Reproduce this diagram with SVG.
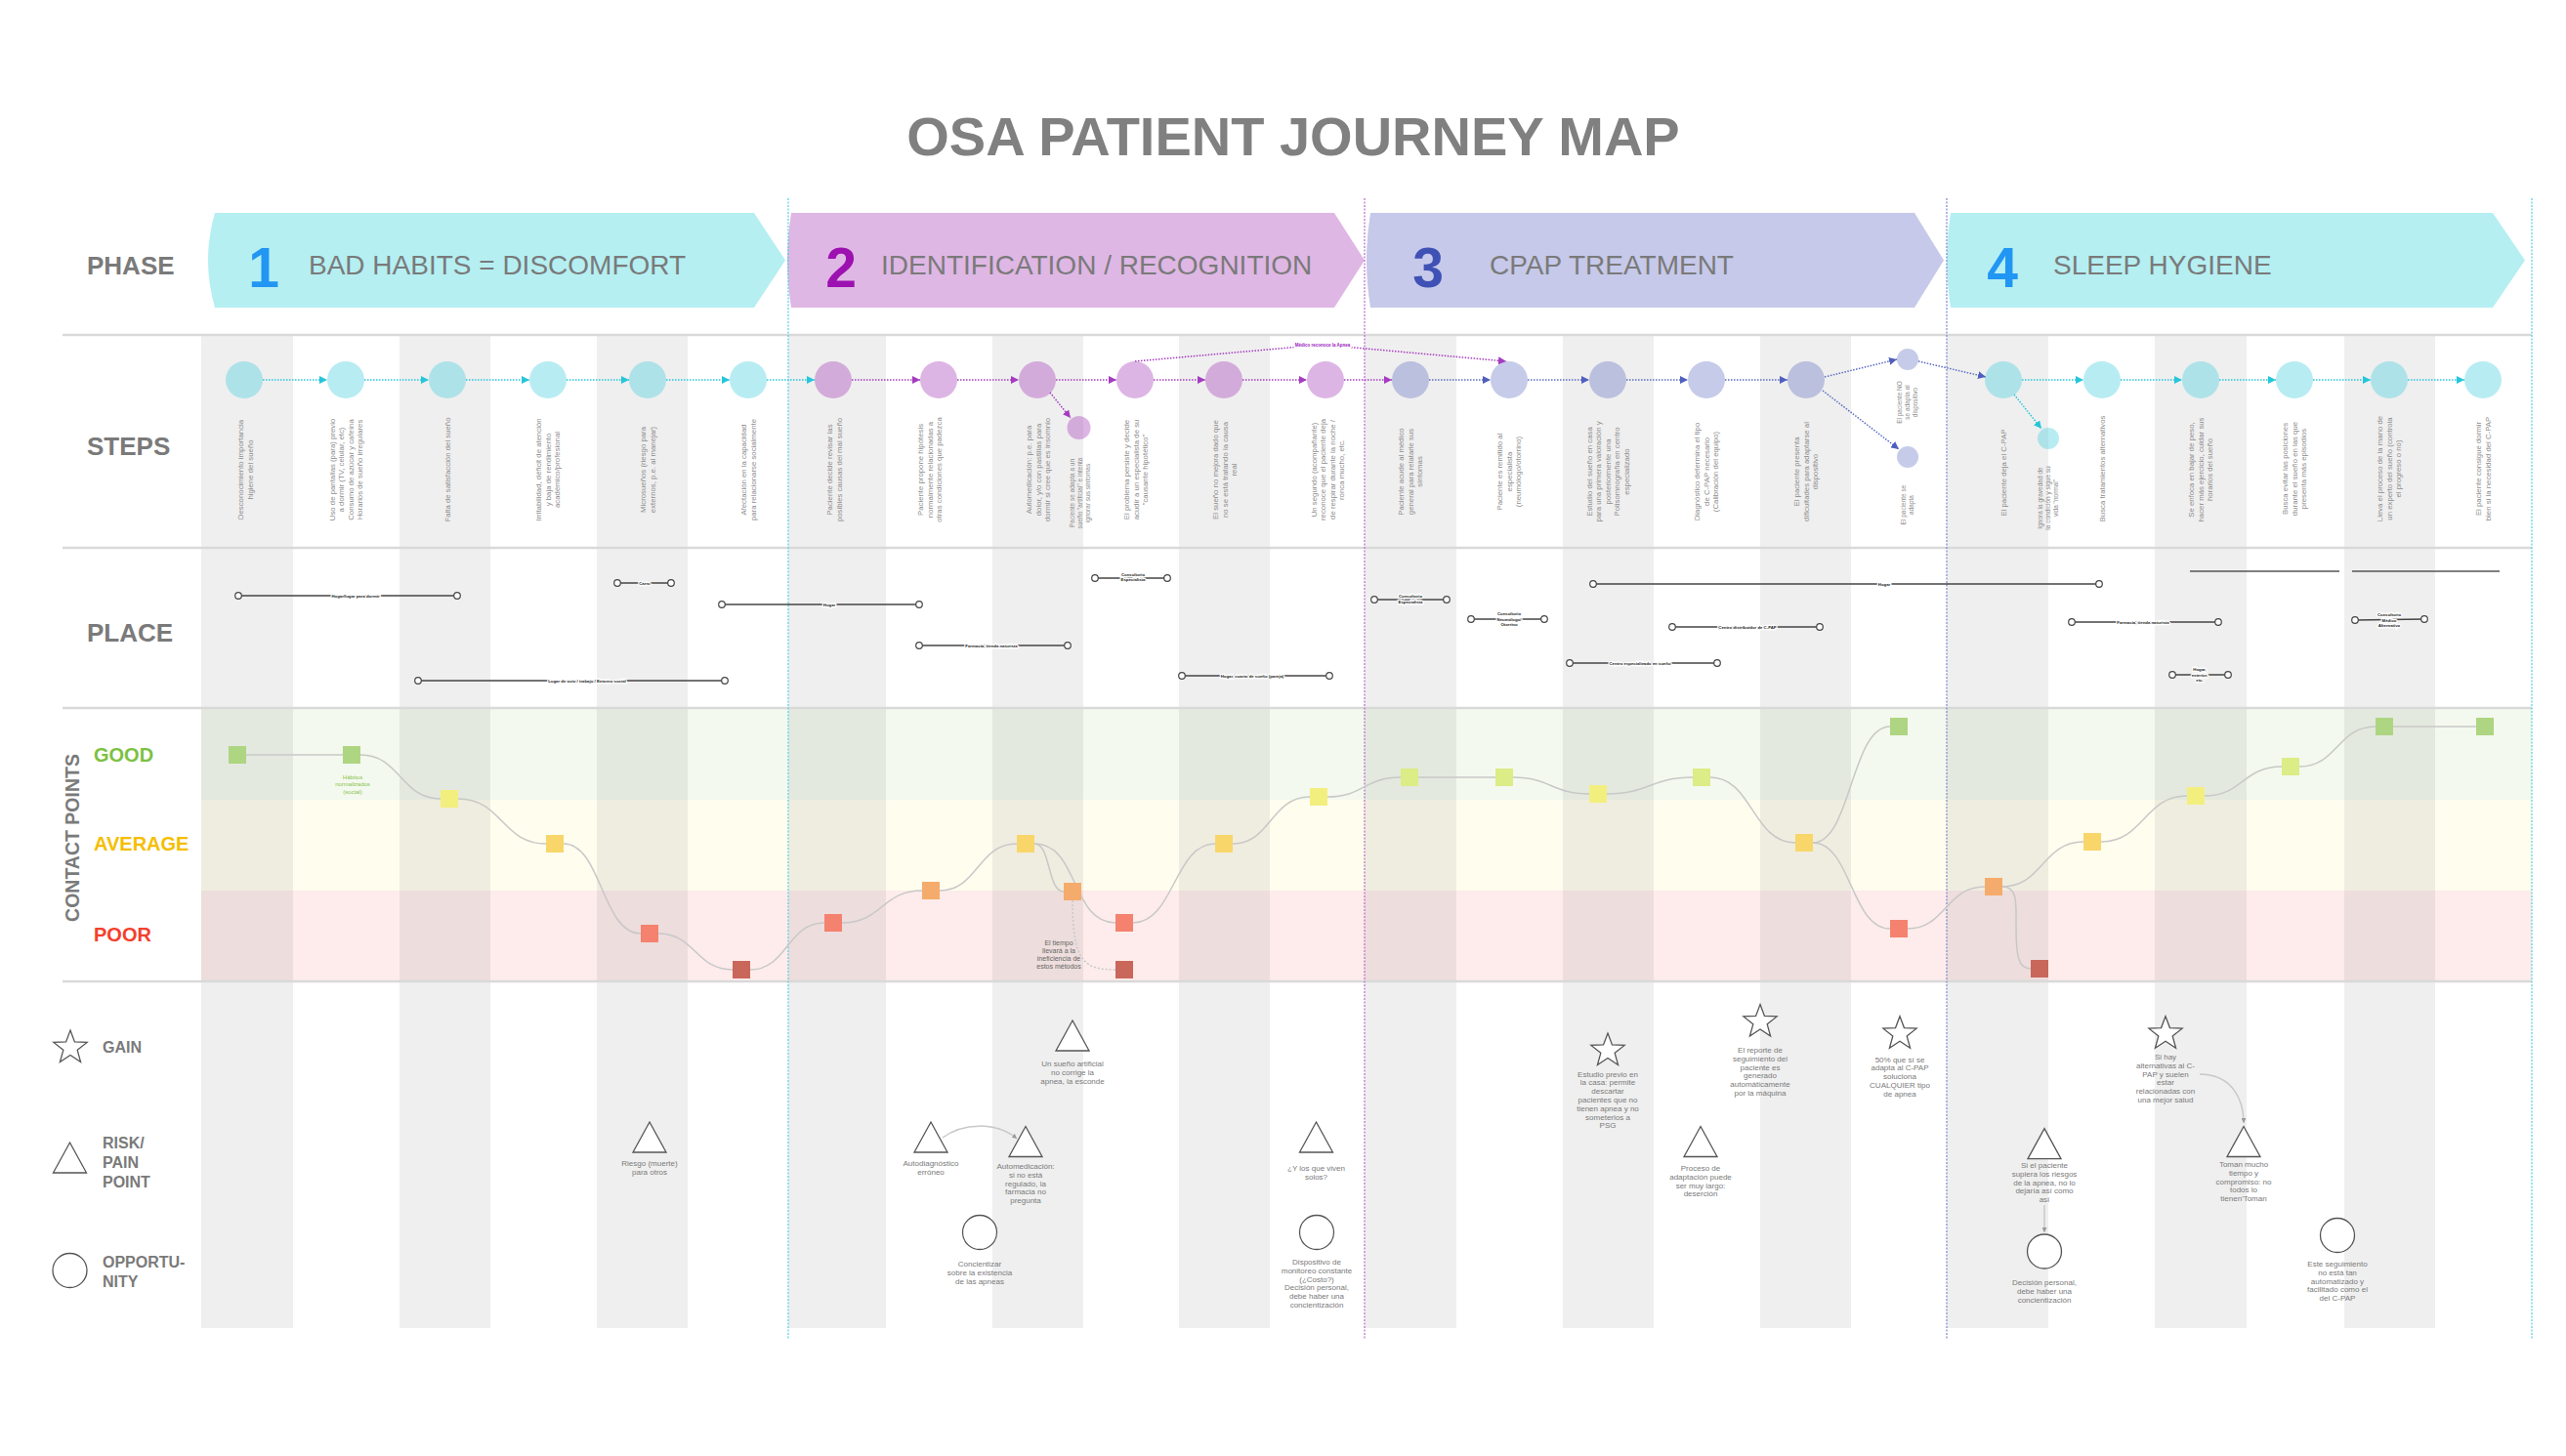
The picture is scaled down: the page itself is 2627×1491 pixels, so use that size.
<svg xmlns="http://www.w3.org/2000/svg" width="2627" height="1491" viewBox="0 0 2627 1491">
<defs>
<style>
text{font-family:"Liberation Sans",Arial,sans-serif}
.title{font-size:56px;font-weight:bold;fill:#808080}
.row{font-size:26px;font-weight:bold;fill:#7a7a7a}
.pnum{font-size:57px;font-weight:bold;text-anchor:middle}
.ptxt{font-size:28px;fill:#7a7a7a}
.st{font-size:7.8px;fill:#8c8c8c;text-anchor:middle}
.ss{font-size:6.5px;fill:#8c8c8c;text-anchor:middle}
.pl{font-size:4.3px;font-weight:bold;fill:#222;text-anchor:middle;stroke:#fff;stroke-width:2.5px;paint-order:stroke}
.pline{stroke:#444;stroke-width:1.3;fill:none}
.pend{fill:#fff;stroke:#444;stroke-width:1.2}
.note{font-size:8px;fill:#7a7a7a;text-anchor:middle}
.ico{fill:#fff;stroke:#555;stroke-width:1.3}
.lg{font-size:16px;font-weight:bold;fill:#7a7a7a}
.cp{stroke:#c8c8c8;stroke-width:1.5;fill:none}
.sep{stroke:#d9d9d9;stroke-width:2.5}
.stripe{fill:#000;fill-opacity:0.063}
.c1{fill:#4dd0e1;fill-opacity:0.4}
.c2{fill:#ab47bc;fill-opacity:0.4}
.c3{fill:#5c6bc0;fill-opacity:0.35}
.a1{stroke:#26c6da;stroke-width:1.5;stroke-dasharray:1.5 1.5;fill:none;marker-end:url(#ar1)}
.a2{stroke:#a53bc0;stroke-width:1.5;stroke-dasharray:1.5 1.5;fill:none;marker-end:url(#ar2)}
.a3{stroke:#5c6bc0;stroke-width:1.5;stroke-dasharray:1.5 1.5;fill:none;marker-end:url(#ar3)}
.vline{stroke-width:1.2;stroke-dasharray:2 1.5}
</style>
<marker id="ar1" viewBox="0 0 8 8" refX="8" refY="4" markerWidth="8" markerHeight="8" markerUnits="userSpaceOnUse" orient="auto"><path d="M0,0 L8,4 L0,8 Z" fill="#26c6da"/></marker>
<marker id="ar2" viewBox="0 0 8 8" refX="8" refY="4" markerWidth="8" markerHeight="8" markerUnits="userSpaceOnUse" orient="auto"><path d="M0,0 L8,4 L0,8 Z" fill="#a53bc0"/></marker>
<marker id="ar3" viewBox="0 0 8 8" refX="8" refY="4" markerWidth="8" markerHeight="8" markerUnits="userSpaceOnUse" orient="auto"><path d="M0,0 L8,4 L0,8 Z" fill="#4f5fbf"/></marker>
<marker id="arg" viewBox="0 0 6 6" refX="6" refY="3" markerWidth="5" markerHeight="5" markerUnits="userSpaceOnUse" orient="auto"><path d="M0,0 L6,3 L0,6 Z" fill="#999"/></marker>
<path id="star" d="M0,-18 L4.44,-6.12 L17.12,-5.56 L7.19,2.34 L10.58,14.56 L0,7.56 L-10.58,14.56 L-7.19,2.34 L-17.12,-5.56 L-4.44,-6.12 Z"/>
<path id="tri" d="M0,-16 L17,15 L-17,15 Z"/>
<circle id="opp" r="17.5"/>
</defs>
<rect x="0" y="0" width="2627" height="1491" fill="#fff"/>

<text class="title" x="1324" y="159" text-anchor="middle">OSA PATIENT JOURNEY MAP</text>

<!-- row labels -->
<text class="row" x="89" y="281">PHASE</text>
<text class="row" x="89" y="466">STEPS</text>
<text class="row" x="89" y="657">PLACE</text>
<text transform="translate(81,858) rotate(-90)" text-anchor="middle" style="font-size:19.5px;font-weight:bold;fill:#7a7a7a">CONTACT POINTS</text>
<text x="96" y="780" style="font-size:20px;font-weight:bold;fill:#7cc142">GOOD</text>
<text x="96" y="871" style="font-size:20px;font-weight:bold;fill:#f5be00">AVERAGE</text>
<text x="96" y="964" style="font-size:20px;font-weight:bold;fill:#f4402c">POOR</text>

<!-- phases -->
<g id="phase-1">
<path d="M220,218 L772,218 L804,266.5 L772,315 L220,315 Q206,266.5 220,218 Z" fill="#b5eff2"/>
<text class="pnum" x="270" y="294" fill="#2196f3">1</text>
<text class="ptxt" x="316" y="281">BAD HABITS = DISCOMFORT</text>
</g>
<g id="phase-2">
<path d="M810,218 L1366,218 L1397,266.5 L1366,315 L810,315 Q802,266.5 810,218 Z" fill="#dfb7e4"/>
<text class="pnum" x="861" y="294" fill="#9c11b0">2</text>
<text class="ptxt" x="902" y="281">IDENTIFICATION / RECOGNITION</text>
</g>
<g id="phase-3">
<path d="M1403,218 L1960,218 L1990,266.5 L1960,315 L1403,315 Q1395,266.5 1403,218 Z" fill="#c6c9e9"/>
<text class="pnum" x="1462" y="294" fill="#3f51b5">3</text>
<text class="ptxt" x="1525" y="281">CPAP TREATMENT</text>
</g>
<g id="phase-4">
<path d="M1997,218 L2552,218 L2585,266.5 L2552,315 L1997,315 Q1989,266.5 1997,218 Z" fill="#b5eff2"/>
<text class="pnum" x="2050" y="294" fill="#2196f3">4</text>
<text class="ptxt" x="2102" y="281">SLEEP HYGIENE</text>
</g>

<!-- bands -->
<rect x="206" y="726" width="2386" height="93" fill="#f3f9ee"/>
<rect x="206" y="819" width="2386" height="93" fill="#fffdee"/>
<rect x="206" y="912" width="2386" height="93" fill="#fdeceb"/>

<!-- stripes -->
<g id="stripes">
<rect class="stripe" x="206" y="344" width="94" height="1016"/>
<rect class="stripe" x="409" y="344" width="93" height="1016"/>
<rect class="stripe" x="611" y="344" width="93" height="1016"/>
<rect class="stripe" x="807" y="344" width="100" height="1016"/>
<rect class="stripe" x="1016" y="344" width="93" height="1016"/>
<rect class="stripe" x="1207" y="344" width="93" height="1016"/>
<rect class="stripe" x="1397" y="344" width="94" height="1016"/>
<rect class="stripe" x="1600" y="344" width="93" height="1016"/>
<rect class="stripe" x="1802" y="344" width="93" height="1016"/>
<rect class="stripe" x="1993" y="344" width="104" height="1016"/>
<rect class="stripe" x="2206" y="344" width="94" height="1016"/>
<rect class="stripe" x="2400" y="344" width="93" height="1016"/>
</g>

<line class="sep" x1="64" y1="343" x2="2592" y2="343"/>
<line class="sep" x1="64" y1="561" x2="2592" y2="561"/>
<line class="sep" x1="64" y1="725" x2="2592" y2="725"/>
<line class="sep" x1="64" y1="1005" x2="2592" y2="1005"/>

<line class="vline" x1="807" y1="203" x2="807" y2="1372" stroke="#4dd0e1"/>
<line class="vline" x1="1397" y1="203" x2="1397" y2="1372" stroke="#ba68c8"/>
<line class="vline" x1="1993" y1="203" x2="1993" y2="1372" stroke="#7986cb"/>
<line class="vline" x1="2592" y1="203" x2="2592" y2="1372" stroke="#4dd0e1"/>

<!-- connectors -->
<g id="connectors">
<path class="a1" d="M269,389 L335,389"/>
<path class="a1" d="M373,389 L439,389"/>
<path class="a1" d="M477,389 L542,389"/>
<path class="a1" d="M580,389 L644,389"/>
<path class="a1" d="M682,389 L747,389"/>
<path class="a1" d="M785,389 L834,389"/>
<path class="a2" d="M872,389 L942,389"/>
<path class="a2" d="M980,389 L1043,389"/>
<path class="a2" d="M1081,389 L1143,389"/>
<path class="a2" d="M1181,389 L1234,389"/>
<path class="a2" d="M1272,389 L1338,389"/>
<path class="a2" d="M1376,389 L1425,389"/>
<path class="a2" d="M1075,402 L1096,428"/>
<path class="a2" d="M1162,370 L1354,353 L1542,370"/>
<path class="a3" d="M1463,389 L1526,389"/>
<path class="a3" d="M1564,389 L1627,389"/>
<path class="a3" d="M1665,389 L1728,389"/>
<path class="a3" d="M1766,389 L1830,389"/>
<path class="a3" d="M1868,386 L1942,368"/>
<path class="a3" d="M1866,400 L1944,460"/>
<path class="a3" d="M1964,370 L2033,386"/>
<path class="a1" d="M2070,389 L2133,389"/>
<path class="a1" d="M2171,389 L2234,389"/>
<path class="a1" d="M2272,389 L2330,389"/>
<path class="a1" d="M2368,389 L2427,389"/>
<path class="a1" d="M2465,389 L2523,389"/>
<path class="a1" d="M2062,404 L2090,439"/>

<path class="cp" d="M252,773 L351,773"/>
<path class="cp" d="M369,773 C410,773 410,818 451,818"/>
<path class="cp" d="M469,818 C514,818 514,864 559,864"/>
<path class="cp" d="M577,864 C616,864 616,956 656,956"/>
<path class="cp" d="M674,956 C712,956 712,993 750,993"/>
<path class="cp" d="M768,993 C806,993 806,945 844,945"/>
<path class="cp" d="M862,945 C903,945 903,912 944,912"/>
<path class="cp" d="M962,912 C1001,912 1001,864 1041,864"/>
<path class="cp" d="M1059,864 C1076,864 1072,913 1089,913"/>
<path class="cp" d="M1059,864 C1105,864 1096,945 1142,945"/>
<path class="cp" d="M1098,922 C1098,985 1110,993 1142,993" stroke-dasharray="2 2"/>
<path class="cp" d="M1160,945 C1202,945 1202,864 1244,864"/>
<path class="cp" d="M1262,864 C1301,864 1301,816 1341,816"/>
<path class="cp" d="M1359,816 C1396,816 1396,796 1434,796"/>
<path class="cp" d="M1452,796 L1531,796"/>
<path class="cp" d="M1549,796 C1588,796 1588,813 1627,813"/>
<path class="cp" d="M1645,813 C1689,813 1689,796 1733,796"/>
<path class="cp" d="M1751,796 C1794,796 1794,863 1838,863"/>
<path class="cp" d="M1856,863 C1895,863 1895,744 1935,744"/>
<path class="cp" d="M1856,863 C1895,863 1895,951 1935,951"/>
<path class="cp" d="M1953,951 C1992,951 1992,908 2032,908"/>
<path class="cp" d="M2050,908 C2066,908 2064,925 2064,950 C2064,978 2066,992 2079,992"/>
<path class="cp" d="M2050,908 C2091,908 2091,862 2133,862"/>
<path class="cp" d="M2151,862 C2195,862 2195,815 2239,815"/>
<path class="cp" d="M2257,815 C2296,815 2296,785 2336,785"/>
<path class="cp" d="M2354,785 C2393,785 2393,744 2432,744"/>
<path class="cp" d="M2450,744 L2535,744"/>

<path class="cp" d="M965,1165 C985,1150 1020,1148 1041,1166" stroke-width="1.2" marker-end="url(#arg)"/>
<path class="cp" d="M2252,1100 C2282,1100 2297,1122 2297,1150" stroke-width="1.2" marker-end="url(#arg)"/>
<path class="cp" d="M2093,1234 L2093,1262" stroke-width="1.2" marker-end="url(#arg)"/>
</g>
<text x="1354" y="355" text-anchor="middle" style="font-size:4.5px;font-weight:bold;fill:#a020c0;stroke:#fff;stroke-width:3px;paint-order:stroke">Médico reconoce la Apnea</text>

<!-- steps -->
<g id="step-1"><circle class="c1" cx="250" cy="389" r="19"/><text class="st" transform="translate(251,481) rotate(-90)"><tspan x="0" y="-1.95">Desconocimiento importancia</tspan><tspan x="0" y="7.55">higiene del sueño</tspan></text></g>
<g id="step-2"><circle class="c1" cx="354" cy="389" r="19"/><text class="st" transform="translate(354,481) rotate(-90)"><tspan x="0" y="-11.45">Uso de pantallas (para) previo</tspan><tspan x="0" y="-1.95">a dormir (TV, celular, etc)</tspan><tspan x="0" y="7.55">Consumo de azúcar y cafeína</tspan><tspan x="0" y="17.05">Horarios de sueño irregulares</tspan></text></g>
<g id="step-3"><circle class="c1" cx="458" cy="389" r="19"/><text class="st" transform="translate(458,481) rotate(-90)"><tspan x="0" y="2.8">Falta de satisfacción del sueño</tspan></text></g>
<g id="step-4"><circle class="c1" cx="561" cy="389" r="19"/><text class="st" transform="translate(561,481) rotate(-90)"><tspan x="0" y="-6.7">Irritabilidad, déficit de atención</tspan><tspan x="0" y="2.8">y baja de rendimiento</tspan><tspan x="0" y="12.3">académico/profesional</tspan></text></g>
<g id="step-5"><circle class="c1" cx="663" cy="389" r="19"/><text class="st" transform="translate(663,481) rotate(-90)"><tspan x="0" y="-1.95">Microsueños (riesgo para</tspan><tspan x="0" y="7.55">externos, p.e. al manejar)</tspan></text></g>
<g id="step-6"><circle class="c1" cx="766" cy="389" r="19"/><text class="st" transform="translate(766,481) rotate(-90)"><tspan x="0" y="-1.95">Afectación en la capacidad</tspan><tspan x="0" y="7.55">para relacionarse socialmente</tspan></text></g>
<g id="step-7"><circle class="c2" cx="853" cy="389" r="19"/><text class="st" transform="translate(854,481) rotate(-90)"><tspan x="0" y="-1.95">Paciente decide revisar las</tspan><tspan x="0" y="7.55">posibles causas del mal sueño</tspan></text></g>
<g id="step-8"><circle class="c2" cx="961" cy="389" r="19"/><text class="st" transform="translate(952,481) rotate(-90)"><tspan x="0" y="-6.7">Paciente propone hipótesis</tspan><tspan x="0" y="2.8">normalmente relacionadas a</tspan><tspan x="0" y="12.3">otras condiciones que padezca</tspan></text></g>
<g id="step-9"><circle class="c2" cx="1062" cy="389" r="19"/><text class="st" transform="translate(1063,481) rotate(-90)"><tspan x="0" y="-6.7">Automedicación: p.e. para</tspan><tspan x="0" y="2.8">dolor, y/o con pastillas para</tspan><tspan x="0" y="12.3">dormir si cree que es insomnio</tspan></text></g>
<g id="step-9b"><circle class="c2" cx="1104.5" cy="438" r="12"/><text class="ss" transform="translate(1106,505) rotate(-90)"><tspan x="0" y="-5.7">Paciente se adapta a un</tspan><tspan x="0" y="2.3">sueño "artificial" e intenta</tspan><tspan x="0" y="10.3">ignorar sus síntomas</tspan></text></g>
<g id="step-10"><circle class="c2" cx="1162" cy="389" r="19"/><text class="st" transform="translate(1163,481) rotate(-90)"><tspan x="0" y="-6.7">El problema persiste y decide</tspan><tspan x="0" y="2.8">acudir a un especialista de su</tspan><tspan x="0" y="12.3">"causante hipotético"</tspan></text></g>
<g id="step-11"><circle class="c2" cx="1253" cy="389" r="19"/><text class="st" transform="translate(1254,481) rotate(-90)"><tspan x="0" y="-6.7">El sueño no mejora dado que</tspan><tspan x="0" y="2.8">no se está tratando la causa</tspan><tspan x="0" y="12.3">real</tspan></text></g>
<g id="step-12"><circle class="c2" cx="1357" cy="389" r="19"/><text class="st" transform="translate(1359,481) rotate(-90)"><tspan x="0" y="-11.45">Un segundo (acompañante)</tspan><tspan x="0" y="-1.95">reconoce que el paciente deja</tspan><tspan x="0" y="7.55">de respirar durante la noche /</tspan><tspan x="0" y="17.05">ronca mucho, etc.</tspan></text></g>
<g id="step-13"><circle class="c3" cx="1444" cy="389" r="19"/><text class="st" transform="translate(1444,483) rotate(-90)"><tspan x="0" y="-6.7">Paciente acude al médico</tspan><tspan x="0" y="2.8">general para relatarle sus</tspan><tspan x="0" y="12.3">síntomas</tspan></text></g>
<g id="step-14"><circle class="c3" cx="1545" cy="389" r="19"/><text class="st" transform="translate(1545,483) rotate(-90)"><tspan x="0" y="-6.7">Paciente es remitido al</tspan><tspan x="0" y="2.8">especialista</tspan><tspan x="0" y="12.3">(neumólogo/otorrino)</tspan></text></g>
<g id="step-15"><circle class="c3" cx="1646" cy="389" r="19"/><text class="st" transform="translate(1646,483) rotate(-90)"><tspan x="0" y="-16.2">Estudio del sueño en casa</tspan><tspan x="0" y="-6.7">para una primera valoración y</tspan><tspan x="0" y="2.8">posteriormente una</tspan><tspan x="0" y="12.3">Polisomnografía en centro</tspan><tspan x="0" y="21.8">especializado</tspan></text></g>
<g id="step-16"><circle class="c3" cx="1747" cy="389" r="19"/><text class="st" transform="translate(1747,483) rotate(-90)"><tspan x="0" y="-6.7">Diagnóstico determina el tipo</tspan><tspan x="0" y="2.8">de C-PAP necesario</tspan><tspan x="0" y="12.3">(Calibración del equipo)</tspan></text></g>
<g id="step-17"><circle class="c3" cx="1849" cy="389" r="19"/><text class="st" transform="translate(1849,483) rotate(-90)"><tspan x="0" y="-6.7">El paciente presenta</tspan><tspan x="0" y="2.8">dificultades para adaptarse al</tspan><tspan x="0" y="12.3">dispositivo</tspan></text></g>
<g id="step-18a"><circle class="c3" cx="1953" cy="368" r="11"/><text class="ss" transform="translate(1953,412) rotate(-90)"><tspan x="0" y="-5.7">El paciente NO</tspan><tspan x="0" y="2.3">se adapta al</tspan><tspan x="0" y="10.3">dispositivo</tspan></text></g>
<g id="step-18b"><circle class="c3" cx="1953" cy="468" r="11"/><text class="ss" transform="translate(1953,517) rotate(-90)"><tspan x="0" y="-1.7">El paciente se</tspan><tspan x="0" y="6.3">adapta</tspan></text></g>
<g id="step-19"><circle class="c1" cx="2051" cy="389" r="19"/><text class="st" transform="translate(2051,484) rotate(-90)"><tspan x="0" y="2.8">El paciente deja el C-PAP</tspan></text></g>
<g id="step-19b"><circle class="c1" cx="2097" cy="449" r="11"/><text class="ss" transform="translate(2097,510) rotate(-90)"><tspan x="0" y="-5.7">Ignora la gravedad de</tspan><tspan x="0" y="2.3">la condición y sigue su</tspan><tspan x="0" y="10.3">vida "normal"</tspan></text></g>
<g id="step-20"><circle class="c1" cx="2152" cy="389" r="19"/><text class="st" transform="translate(2152,480) rotate(-90)"><tspan x="0" y="2.8">Busca tratamientos alternativos</tspan></text></g>
<g id="step-21"><circle class="c1" cx="2253" cy="389" r="19"/><text class="st" transform="translate(2253,481) rotate(-90)"><tspan x="0" y="-6.7">Se enfoca en bajar de peso,</tspan><tspan x="0" y="2.8">hacer más ejercicio, cuidar sus</tspan><tspan x="0" y="12.3">horarios del sueño</tspan></text></g>
<g id="step-22"><circle class="c1" cx="2349" cy="389" r="19"/><text class="st" transform="translate(2349,480) rotate(-90)"><tspan x="0" y="-6.7">Busca evitar las posiciones</tspan><tspan x="0" y="2.8">durante el sueño en las que</tspan><tspan x="0" y="12.3">presenta más episodios</tspan></text></g>
<g id="step-23"><circle class="c1" cx="2446" cy="389" r="19"/><text class="st" transform="translate(2446,480) rotate(-90)"><tspan x="0" y="-6.7">Lleva el proceso de la mano de</tspan><tspan x="0" y="2.8">un experto del sueño (controla</tspan><tspan x="0" y="12.3">el progreso o no)</tspan></text></g>
<g id="step-24"><circle class="c1" cx="2542" cy="389" r="19"/><text class="st" transform="translate(2542,480) rotate(-90)"><tspan x="0" y="-1.95">El paciente consigue dormir</tspan><tspan x="0" y="7.55">bien si la necesidad del C-PAP</tspan></text></g>

<!-- places -->
<g id="place-1"><line class="pline" x1="244" y1="610" x2="468" y2="610"/><circle class="pend" cx="244" cy="610" r="3.3"/><circle class="pend" cx="468" cy="610" r="3.3"/><text class="pl" x="364" y="611.5">Hogar/lugar para dormir</text></g>
<g id="place-2"><line class="pline" x1="632" y1="597" x2="687" y2="597"/><circle class="pend" cx="632" cy="597" r="3.3"/><circle class="pend" cx="687" cy="597" r="3.3"/><text class="pl" x="660" y="598.5">Carro</text></g>
<g id="place-3"><line class="pline" x1="739" y1="619" x2="941" y2="619"/><circle class="pend" cx="739" cy="619" r="3.3"/><circle class="pend" cx="941" cy="619" r="3.3"/><text class="pl" x="849" y="620.5">Hogar</text></g>
<g id="place-4"><line class="pline" x1="428" y1="697" x2="742" y2="697"/><circle class="pend" cx="428" cy="697" r="3.3"/><circle class="pend" cx="742" cy="697" r="3.3"/><text class="pl" x="601" y="698.5">Lugar de ocio / trabajo / Entorno social</text></g>
<g id="place-5"><line class="pline" x1="941" y1="661" x2="1093" y2="661"/><circle class="pend" cx="941" cy="661" r="3.3"/><circle class="pend" cx="1093" cy="661" r="3.3"/><text class="pl" x="1015" y="662.5">Farmacia, tienda naturista</text></g>
<g id="place-6"><line class="pline" x1="1121" y1="592" x2="1195" y2="592"/><circle class="pend" cx="1121" cy="592" r="3.3"/><circle class="pend" cx="1195" cy="592" r="3.3"/><text class="pl" x="1160" y="589.5">Consultorio<tspan x="1160" dy="5.5">Especialista</tspan></text></g>
<g id="place-7"><line class="pline" x1="1210" y1="692" x2="1361" y2="692"/><circle class="pend" cx="1210" cy="692" r="3.3"/><circle class="pend" cx="1361" cy="692" r="3.3"/><text class="pl" x="1282" y="693.5">Hogar, cuarto de sueño (pareja)</text></g>
<g id="place-8"><line class="pline" x1="1407" y1="614" x2="1481" y2="614"/><circle class="pend" cx="1407" cy="614" r="3.3"/><circle class="pend" cx="1481" cy="614" r="3.3"/><text class="pl" x="1444" y="612">Consultorio<tspan x="1444" dy="5.5">Especialista</tspan></text></g>
<g id="place-9"><line class="pline" x1="1506" y1="634" x2="1581" y2="634"/><circle class="pend" cx="1506" cy="634" r="3.3"/><circle class="pend" cx="1581" cy="634" r="3.3"/><text class="pl" x="1545" y="630">Consultorio<tspan x="1545" dy="5.5">Neumólogo/</tspan><tspan x="1545" dy="5.5">Otorrino</tspan></text></g>
<g id="place-10"><line class="pline" x1="1631" y1="598" x2="2149" y2="598"/><circle class="pend" cx="1631" cy="598" r="3.3"/><circle class="pend" cx="2149" cy="598" r="3.3"/><text class="pl" x="1929" y="599.5">Hogar</text></g>
<g id="place-11"><line class="pline" x1="1712" y1="642" x2="1863" y2="642"/><circle class="pend" cx="1712" cy="642" r="3.3"/><circle class="pend" cx="1863" cy="642" r="3.3"/><text class="pl" x="1789" y="643.5">Centro distribuidor de C-PAP</text></g>
<g id="place-12"><line class="pline" x1="1607" y1="679" x2="1758" y2="679"/><circle class="pend" cx="1607" cy="679" r="3.3"/><circle class="pend" cx="1758" cy="679" r="3.3"/><text class="pl" x="1679" y="680.5">Centro especializado en sueño</text></g>
<g id="place-13"><line class="pline" x1="2121" y1="637" x2="2271" y2="637"/><circle class="pend" cx="2121" cy="637" r="3.3"/><circle class="pend" cx="2271" cy="637" r="3.3"/><text class="pl" x="2194" y="638.5">Farmacia, tienda naturista</text></g>
<g id="place-14"><line class="pline" x1="2224" y1="691" x2="2281" y2="691"/><circle class="pend" cx="2224" cy="691" r="3.3"/><circle class="pend" cx="2281" cy="691" r="3.3"/><text class="pl" x="2252" y="687">Hogar,<tspan x="2252" dy="5.5">exterior,</tspan><tspan x="2252" dy="5.5">etc.</tspan></text></g>
<g id="place-15"><line class="pline" x1="2411" y1="635" x2="2482" y2="634"/><circle class="pend" cx="2411" cy="635" r="3.3"/><circle class="pend" cx="2482" cy="634" r="3.3"/><text class="pl" x="2446" y="631">Consultorio<tspan x="2446" dy="5.5">Médico</tspan><tspan x="2446" dy="5.5">Alternativo</tspan></text></g>
<g id="place-16"><line x1="2242" y1="585" x2="2395" y2="585" stroke="#555" stroke-width="1.6"/><line x1="2408" y1="585" x2="2559" y2="585" stroke="#555" stroke-width="1.6"/></g>

<!-- contact points -->
<g id="contact-points">
<rect x="234" y="764" width="18" height="18" fill="#aed581"/>
<rect x="351" y="764" width="18" height="18" fill="#aed581"/>
<rect x="451" y="809" width="18" height="18" fill="#f3ef7f"/>
<rect x="559" y="855" width="18" height="18" fill="#f8d66a"/>
<rect x="656" y="947" width="18" height="18" fill="#f4826f"/>
<rect x="750" y="984" width="18" height="18" fill="#c8675a"/>
<rect x="844" y="936" width="18" height="18" fill="#f4826f"/>
<rect x="944" y="903" width="18" height="18" fill="#f5ab6b"/>
<rect x="1041" y="855" width="18" height="18" fill="#f8d66a"/>
<rect x="1089" y="904" width="18" height="18" fill="#f5ab6b"/>
<rect x="1142" y="936" width="18" height="18" fill="#f4826f"/>
<rect x="1142" y="984" width="18" height="18" fill="#c8675a"/>
<rect x="1244" y="855" width="18" height="18" fill="#f8d66a"/>
<rect x="1341" y="807" width="18" height="18" fill="#f3ef7f"/>
<rect x="1434" y="787" width="18" height="18" fill="#dcec86"/>
<rect x="1531" y="787" width="18" height="18" fill="#dcec86"/>
<rect x="1627" y="804" width="18" height="18" fill="#f3ef7f"/>
<rect x="1733" y="787" width="18" height="18" fill="#dcec86"/>
<rect x="1838" y="854" width="18" height="18" fill="#f8d66a"/>
<rect x="1935" y="735" width="18" height="18" fill="#aed581"/>
<rect x="1935" y="942" width="18" height="18" fill="#f4826f"/>
<rect x="2032" y="899" width="18" height="18" fill="#f5ab6b"/>
<rect x="2079" y="983" width="18" height="18" fill="#c8675a"/>
<rect x="2133" y="853" width="18" height="18" fill="#f8d66a"/>
<rect x="2239" y="806" width="18" height="18" fill="#f3ef7f"/>
<rect x="2336" y="776" width="18" height="18" fill="#dcec86"/>
<rect x="2432" y="735" width="18" height="18" fill="#aed581"/>
<rect x="2535" y="735" width="18" height="18" fill="#aed581"/>
<text x="361" y="798" text-anchor="middle" style="font-size:6px;fill:#8bc34a">Hábitos<tspan x="361" dy="7.3">normalizados</tspan><tspan x="361" dy="7.3">(social)</tspan></text>
<text x="1084" y="968" text-anchor="middle" style="font-size:7px;fill:#666">El tiempo<tspan x="1084" dy="8">llevará a la</tspan><tspan x="1084" dy="8">ineficiencia de</tspan><tspan x="1084" dy="8">estos métodos</tspan></text>
</g>

<!-- legend -->
<g id="legend">
<use href="#star" x="72" y="1073" class="ico"/>
<text class="lg" x="105" y="1078">GAIN</text>
<use href="#tri" x="71.5" y="1186" class="ico"/>
<text class="lg" x="105" y="1176">RISK/<tspan x="105" dy="20">PAIN</tspan><tspan x="105" dy="20">POINT</tspan></text>
<use href="#opp" x="71.5" y="1301" class="ico"/>
<text class="lg" x="105" y="1298">OPPORTU-<tspan x="105" dy="20">NITY</tspan></text>
</g>

<!-- gains / risks / opportunities -->
<g id="risk-1"><use href="#tri" x="665" y="1165" class="ico"/><text class="note" x="665" y="1194">Riesgo (muerte)<tspan x="665" dy="8.8">para otros</tspan></text></g>
<g id="risk-2"><use href="#tri" x="1098" y="1061" class="ico"/><text class="note" x="1098" y="1092">Un sueño artificial<tspan x="1098" dy="8.8">no corrige la</tspan><tspan x="1098" dy="8.8">apnea, la esconde</tspan></text></g>
<g id="risk-3"><use href="#tri" x="953" y="1165" class="ico"/><text class="note" x="953" y="1194">Autodiagnóstico<tspan x="953" dy="8.8">erróneo</tspan></text></g>
<g id="risk-4"><use href="#tri" x="1050" y="1169.5" class="ico"/><text class="note" x="1050" y="1197">Automedicación:<tspan x="1050" dy="8.8">si no está</tspan><tspan x="1050" dy="8.8">regulado, la</tspan><tspan x="1050" dy="8.8">farmacia no</tspan><tspan x="1050" dy="8.8">pregunta</tspan></text></g>
<g id="risk-5"><use href="#tri" x="1347.5" y="1165" class="ico"/><text class="note" x="1347.5" y="1199">¿Y los que viven<tspan x="1347.5" dy="8.8">solos?</tspan></text></g>
<g id="opp-1"><use href="#opp" x="1003" y="1262" class="ico"/><text class="note" x="1003" y="1297">Concientizar<tspan x="1003" dy="8.8">sobre la existencia</tspan><tspan x="1003" dy="8.8">de las apneas</tspan></text></g>
<g id="opp-2"><use href="#opp" x="1348" y="1262" class="ico"/><text class="note" x="1348" y="1295">Dispositivo de<tspan x="1348" dy="8.8">monitoreo constante</tspan><tspan x="1348" dy="8.8">(¿Costo?)</tspan><tspan x="1348" dy="8.8">Decisión personal,</tspan><tspan x="1348" dy="8.8">debe haber una</tspan><tspan x="1348" dy="8.8">concientización</tspan></text></g>
<g id="gain-1"><use href="#star" x="1646" y="1076" class="ico"/><text class="note" x="1646" y="1102.6">Estudio previo en<tspan x="1646" dy="8.8">la casa: permite</tspan><tspan x="1646" dy="8.8">descartar</tspan><tspan x="1646" dy="8.8">pacientes que no</tspan><tspan x="1646" dy="8.8">tienen apnea y no</tspan><tspan x="1646" dy="8.8">someterlos a</tspan><tspan x="1646" dy="8.8">PSG</tspan></text></g>
<g id="gain-2"><use href="#star" x="1802" y="1046.5" class="ico"/><text class="note" x="1802" y="1078">El reporte de<tspan x="1802" dy="8.8">seguimiento del</tspan><tspan x="1802" dy="8.8">paciente es</tspan><tspan x="1802" dy="8.8">generado</tspan><tspan x="1802" dy="8.8">automáticamente</tspan><tspan x="1802" dy="8.8">por la máquina</tspan></text></g>
<g id="gain-3"><use href="#star" x="1945" y="1058.7" class="ico"/><text class="note" x="1945" y="1087.5">50% que sí se<tspan x="1945" dy="8.8">adapta al C-PAP</tspan><tspan x="1945" dy="8.8">soluciona</tspan><tspan x="1945" dy="8.8">CUALQUIER tipo</tspan><tspan x="1945" dy="8.8">de apnea</tspan></text></g>
<g id="risk-6"><use href="#tri" x="1741" y="1169.5" class="ico"/><text class="note" x="1741" y="1199">Proceso de<tspan x="1741" dy="8.8">adaptación puede</tspan><tspan x="1741" dy="8.8">ser muy largo:</tspan><tspan x="1741" dy="8.8">deserción</tspan></text></g>
<g id="gain-4"><use href="#star" x="2217" y="1058.7" class="ico"/><text class="note" x="2217" y="1085">Si hay<tspan x="2217" dy="8.8">alternativas al C-</tspan><tspan x="2217" dy="8.8">PAP y suelen</tspan><tspan x="2217" dy="8.8">estar</tspan><tspan x="2217" dy="8.8">relacionadas con</tspan><tspan x="2217" dy="8.8">una mejor salud</tspan></text></g>
<g id="risk-7"><use href="#tri" x="2297" y="1169.5" class="ico"/><text class="note" x="2297" y="1195">Toman mucho<tspan x="2297" dy="8.8">tiempo y</tspan><tspan x="2297" dy="8.8">compromiso: no</tspan><tspan x="2297" dy="8.8">todos lo</tspan><tspan x="2297" dy="8.8">tienen'Toman</tspan></text></g>
<g id="risk-8"><use href="#tri" x="2093" y="1171.6" class="ico"/><text class="note" x="2093" y="1196">Si el paciente<tspan x="2093" dy="8.8">supiera los riesgos</tspan><tspan x="2093" dy="8.8">de la apnea, no lo</tspan><tspan x="2093" dy="8.8">dejaría así como</tspan><tspan x="2093" dy="8.8">así</tspan></text></g>
<g id="opp-3"><use href="#opp" x="2093" y="1281.5" class="ico"/><text class="note" x="2093" y="1316.4">Decisión personal,<tspan x="2093" dy="8.8">debe haber una</tspan><tspan x="2093" dy="8.8">concientización</tspan></text></g>
<g id="opp-4"><use href="#opp" x="2393" y="1265" class="ico"/><text class="note" x="2393" y="1297">Este seguimiento<tspan x="2393" dy="8.8">no está tan</tspan><tspan x="2393" dy="8.8">automatizado y</tspan><tspan x="2393" dy="8.8">facilitado como el</tspan><tspan x="2393" dy="8.8">del C-PAP</tspan></text></g>
</svg>
